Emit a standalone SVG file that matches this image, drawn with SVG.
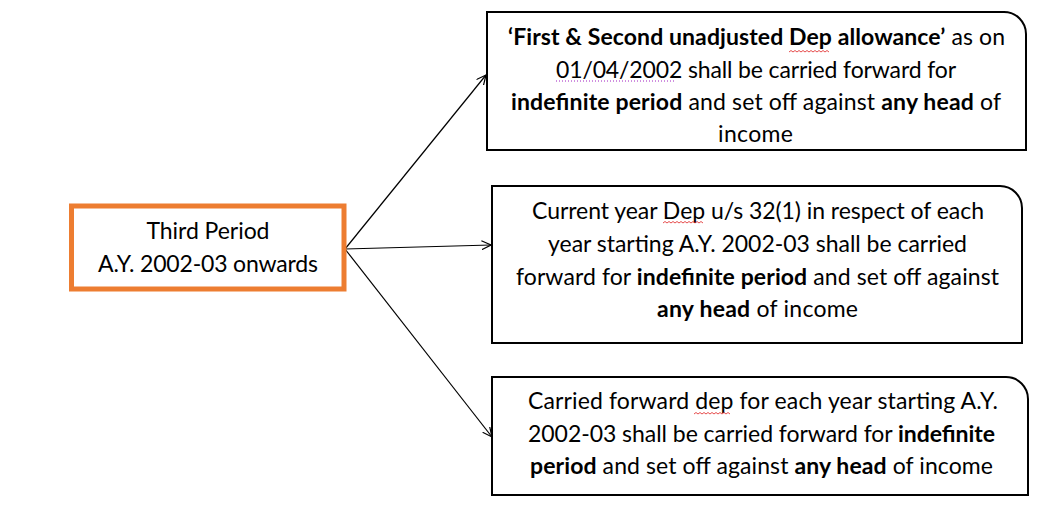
<svg xmlns="http://www.w3.org/2000/svg" width="1044" height="509" viewBox="0 0 1044 509">
<style>
text{font-family:Lato,"Open Sans","Liberation Sans",sans-serif;font-size:23px;fill:#000;text-anchor:middle}
.b{font-weight:bold}
.box{fill:#fff;stroke:#000;stroke-width:2}
.src{fill:#fff;stroke:#ED7D31;stroke-width:5}
.edge{stroke:#000;stroke-width:1.2;fill:none;marker-end:url(#arr)}
.wavy{fill:none;stroke:#e02020;stroke-width:0.8}
.dot{fill:none;stroke:#a020c0;stroke-width:1;stroke-dasharray:1 2}
</style>
<defs>
<marker id="arr" viewBox="0 0 10 10" refX="9.5" refY="5" markerWidth="10" markerHeight="10" markerUnits="userSpaceOnUse" orient="auto">
<path d="M0,0.5 L9.5,5 L0,9.5" fill="none" stroke="#000" stroke-width="1.2"/>
</marker>
</defs>
<rect width="1044" height="509" fill="#fff"/>
<g id="connectors">
<line class="edge" x1="345" y1="249" x2="486" y2="75"/>
<line class="edge" x1="345" y1="249" x2="491" y2="245"/>
<line class="edge" x1="345" y1="249" x2="492" y2="437"/>
</g>
<g id="node-third-period">
<rect class="src" x="71.5" y="206" width="272.5" height="83"/>
<text x="208" y="239" textLength="123">Third Period</text>
<text x="208" y="271.5" textLength="220">A.Y. 2002-03 onwards</text>
</g>
<g id="node-first-second">
<path class="box" d="M487,12 H1004 A22,22 0 0 1 1026,34 V150 H487 Z"/>
<text x="756.5" y="45" textLength="497"><tspan class="b">‘First &amp; Second unadjusted Dep allowance’</tspan> as on</text>
<text x="756" y="77.5" textLength="400">01/04/2002 shall be carried forward for</text>
<text x="756" y="110" textLength="490"><tspan class="b">indefinite period</tspan> and set off against <tspan class="b">any head</tspan> of</text>
<text x="755.5" y="141.5" textLength="75">income</text>
<path class="wavy" d="M789,52 l2,-1.5 l2,1.5 l2,-1.5 l2,1.5 l2,-1.5 l2,1.5 l2,-1.5 l2,1.5 l2,-1.5 l2,1.5 l2,-1.5 l2,1.5 l2,-1.5 l2,1.5 l2,-1.5 l2,1.5 l2,-1.5 l2,1.5 l2,-1.5 l2,1.5"/>
<path class="dot" d="M556,81 H674"/>
</g>
<g id="node-current-year">
<path class="box" d="M492,186 H1000 A22,22 0 0 1 1022,208 V343 H492 Z"/>
<text x="758" y="219" textLength="452">Current year Dep u/s 32(1) in respect of each</text>
<text x="757.5" y="252" textLength="419">year starting A.Y. 2002-03 shall be carried</text>
<text x="757.5" y="285" textLength="483">forward for <tspan class="b">indefinite period</tspan> and set off against</text>
<text x="757.5" y="316.5" textLength="201"><tspan class="b">any head</tspan> of income</text>
<path class="wavy" d="M663,223 l2,-1.5 l2,1.5 l2,-1.5 l2,1.5 l2,-1.5 l2,1.5 l2,-1.5 l2,1.5 l2,-1.5 l2,1.5 l2,-1.5 l2,1.5 l2,-1.5 l2,1.5 l2,-1.5 l2,1.5 l2,-1.5 l2,1.5 l2,-1.5 l2,1.5"/>
</g>
<g id="node-carried-forward">
<path class="box" d="M492,377 H1006 A22,22 0 0 1 1028,399 V495 H492 Z"/>
<text x="763" y="409" textLength="470">Carried forward dep for each year starting A.Y.</text>
<text x="761.5" y="442" textLength="467">2002-03 shall be carried forward for <tspan class="b">indefinite</tspan></text>
<text x="761.5" y="474" textLength="463"><tspan class="b">period</tspan> and set off against <tspan class="b">any head</tspan> of income</text>
<path class="wavy" d="M694,414 l2,-1.5 l2,1.5 l2,-1.5 l2,1.5 l2,-1.5 l2,1.5 l2,-1.5 l2,1.5 l2,-1.5 l2,1.5 l2,-1.5 l2,1.5 l2,-1.5 l2,1.5 l2,-1.5 l2,1.5 l2,-1.5 l2,1.5"/>
</g>
</svg>
